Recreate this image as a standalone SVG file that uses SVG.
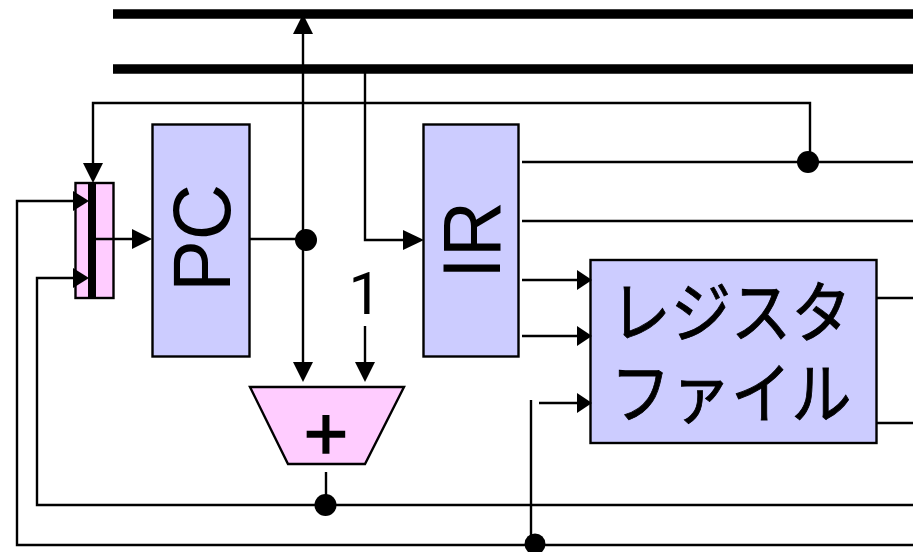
<svg xmlns="http://www.w3.org/2000/svg" width="913" height="552" viewBox="0 0 913 552">
<style>
.box{fill:#ccccff;stroke:#000;stroke-width:2.4}
.pink{fill:#ffccff;stroke:#000;stroke-width:2.4}
.w{fill:none;stroke:#000;stroke-width:2.4}
.bus{fill:none;stroke:#000;stroke-width:9.5}
.dot{fill:#000}
.a{fill:#000}
text{font-family:"Liberation Sans","Noto Sans CJK JP",sans-serif;fill:#000}
.jp{font-size:67px;text-anchor:middle;stroke:#000;stroke-width:.9}
.v{font-size:82px;text-anchor:middle}
</style>
<rect width="913" height="552" fill="#fff"/>
<g id="bus-lines">
<path class="bus" d="M113 14H913"/>
<path class="bus" d="M113 69H913"/>
</g>
<g id="mux">
<rect class="pink" x="75.500" y="183" width="38" height="115"/>
<rect x="88" y="183" width="8" height="115" fill="#000"/>
</g>
<g id="pc">
<rect class="box" x="152.500" y="124.500" width="97" height="232"/>
<text class="v" transform="translate(230 238) rotate(-90) scale(.95 1)">PC</text>
</g>
<g id="ir">
<rect class="box" x="423.500" y="124.500" width="95" height="232"/>
<text class="v" transform="translate(500 240) rotate(-90) scale(.95 1)">IR</text>
</g>
<g id="regfile">
<rect class="box" x="590.500" y="260" width="286" height="183"/>
<text class="jp" transform="translate(731 337) scale(.9 1)">レジスタ</text>
<text class="jp" transform="translate(731 418) scale(.9 1)">ファイル</text>
</g>
<g id="adder">
<polygon class="pink" points="250,387 404,387 365,464 288,464"/>
<text x="326" y="460" font-size="76" text-anchor="middle" stroke="#000" stroke-width="1.6">+</text>
</g>
<g id="one">
<text x="365" y="314" font-size="59" text-anchor="middle" style="font-family:Roboto,sans-serif">1</text>
</g>
<g id="connectors">
<path class="w" d="M303 30V367"/>
<polygon class="a" points="303,14 293,34 313,34"/>
<polygon class="a" points="303,382 293,362 313,362"/>
<path class="w" d="M250 239H303"/>
<circle class="dot" cx="306" cy="240" r="11"/>
<path class="w" d="M365 69V240H410"/>
<polygon class="a" points="424,240 403,230 403,250"/>
<path class="w" d="M365 326V368"/>
<polygon class="a" points="365,382 355,362 375,362"/>
<path class="w" d="M810 162V103H93V170"/>
<polygon class="a" points="93,183 83,163 103,163"/>
<path class="w" d="M522 162H913"/>
<circle class="dot" cx="808" cy="162" r="11"/>
<path class="w" d="M522 221H913"/>
<path class="w" d="M522 280H580"/>
<polygon class="a" points="592,280 577,270 577,290"/>
<path class="w" d="M522 336H580"/>
<polygon class="a" points="592,336 577,326 577,346"/>
<path class="w" d="M539 403H580"/>
<polygon class="a" points="592,403 577,393 577,413"/>
<path class="w" d="M877 298H913"/>
<path class="w" d="M877 423H913"/>
<path class="w" d="M96 239H140"/>
<polygon class="a" points="152,239 132,229 132,249"/>
<path class="w" d="M75 201H17V545H913"/>
<polygon class="a" points="89,201 73,191 73,211"/>
<path class="w" d="M75 278H37V505H913"/>
<polygon class="a" points="89,278 73,268 73,288"/>
<path class="w" d="M326 472V505"/>
<circle class="dot" cx="325.500" cy="505" r="11"/>
<path class="w" d="M531 400V545"/>
<circle class="dot" cx="535" cy="544" r="10.500"/>
</g>
</svg>
